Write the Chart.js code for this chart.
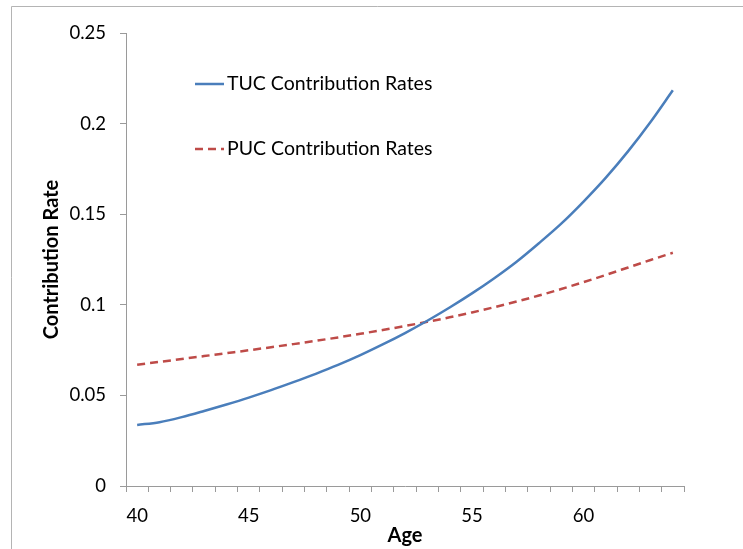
<!DOCTYPE html>
<html>
<head>
<meta charset="utf-8">
<script src="https://cdn.jsdelivr.net/npm/chart.js@4"></script>
<style>
html,body{margin:0;padding:0;background:#fff;}
canvas{display:block;}
</style>
</head>
<body>
<canvas id="c" width="743" height="549"></canvas>
<script>
const ages = ["40","41","42","43","44","45","46","47","48","49","50","51","52","53","54","55","56","57","58","59","60","61","62","63","64"];
const tucRates = [0.0337,0.0352,0.0380,0.0414,0.0450,0.0488,0.0529,0.0573,0.0619,0.0668,0.0722,0.0781,0.0844,0.0912,0.0985,0.1063,0.1147,0.1238,0.1340,0.1448,0.1570,0.1702,0.1848,0.2009,0.2184];
const pucRates = [0.0669,0.0685,0.0701,0.0717,0.0733,0.0749,0.0766,0.0783,0.0801,0.0820,0.0840,0.0861,0.0883,0.0906,0.0931,0.0958,0.0987,0.1018,0.1051,0.1087,0.1125,0.1165,0.1206,0.1247,0.1287];
const yTickValues = [0, 0.05, 0.1, 0.15, 0.2, 0.25];
const yTickLabels = ["0", "0.05", "0.1", "0.15", "0.2", "0.25"];
const xTickLabels = ["40", "45", "50", "55", "60"];
const seriesNames = ["TUC Contribution Rates", "PUC Contribution Rates"];

const FONT = "Lato, 'Open Sans', sans-serif";
const AXIS = "#9a9a9a";

const framePlugin = {
  id: 'frame',
  beforeDraw(chart) {
    const ctx = chart.ctx;
    ctx.save();
    ctx.fillStyle = '#fff';
    ctx.fillRect(0, 0, chart.width, chart.height);
    ctx.strokeStyle = '#b4b4b4';
    ctx.lineWidth = 1;
    ctx.beginPath();
    ctx.moveTo(11.5, chart.height);
    ctx.lineTo(11.5, 6.5);
    ctx.lineTo(chart.width, 6.5);
    ctx.stroke();
    ctx.restore();
  }
};

const legendPlugin = {
  id: 'innerLegend',
  afterDatasetsDraw(chart) {
    const ctx = chart.ctx;
    const rows = [84, 149];
    ctx.save();
    chart.data.datasets.forEach((ds, i) => {
      const y = rows[i];
      ctx.strokeStyle = ds.borderColor;
      ctx.lineWidth = ds.borderWidth;
      ctx.setLineDash(ds.borderDash || []);
      ctx.beginPath();
      ctx.moveTo(195, y);
      ctx.lineTo(224, y);
      ctx.stroke();
      ctx.setLineDash([]);
      ctx.fillStyle = '#000';
      ctx.font = "19.5px " + FONT;
      ctx.textBaseline = 'middle';
      ctx.textAlign = 'left';
      ctx.fillText(ds.label, 227, y);
    });
    ctx.restore();
  }
};

new Chart(document.getElementById('c'), {
  type: 'line',
  data: {
    labels: ages,
    datasets: [
      {
        label: seriesNames[0],
        data: tucRates,
        borderColor: '#4a7ebb',
        borderWidth: 2.5,
        pointRadius: 0,
        cubicInterpolationMode: 'monotone',
        fill: false
      },
      {
        label: seriesNames[1],
        data: pucRates,
        borderColor: '#be4b48',
        borderWidth: 2.5,
        borderDash: [8, 5],
        pointRadius: 0,
        cubicInterpolationMode: 'monotone',
        fill: false
      }
    ]
  },
  options: {
    responsive: false,
    animation: false,
    devicePixelRatio: 1,
    layout: { padding: { left: 0, top: 33, right: 59, bottom: 0 } },
    plugins: {
      legend: { display: false },
      tooltip: { enabled: false },
      title: { display: false }
    },
    scales: {
      x: {
        type: 'category',
        offset: true,
        grid: { offset: true, drawOnChartArea: false, drawTicks: true, tickLength: 6, color: AXIS, lineWidth: 1 },
        border: { display: true, color: AXIS, width: 1 },
        ticks: {
          autoSkip: false,
          maxRotation: 0,
          minRotation: 0,
          padding: 13,
          color: '#000',
          font: { family: FONT, size: 18.5 },
          callback: function(v, i) {
            const lab = this.getLabelForValue(v);
            return xTickLabels.includes(lab) ? lab : '';
          }
        },
        title: {
          display: true,
          text: 'Age',
          color: '#000',
          font: { family: FONT, size: 20, weight: 'bold' },
          padding: { top: 0, bottom: 1 }
        },
        afterFit(scale) { scale.height = 63; }
      },
      y: {
        min: 0,
        max: 0.25,
        grid: { drawOnChartArea: false, drawTicks: true, tickLength: 6, color: AXIS, lineWidth: 1 },
        border: { display: true, color: AXIS, width: 1 },
        afterBuildTicks(scale) { scale.ticks = yTickValues.map(v => ({ value: v })); },
        ticks: {
          padding: 14,
          color: '#000',
          font: { family: FONT, size: 18.5 },
          callback: function(v) {
            const idx = yTickValues.findIndex(t => Math.abs(t - v) < 1e-9);
            return idx >= 0 ? yTickLabels[idx] : '';
          }
        },
        title: {
          display: true,
          text: 'Contribution Rate',
          color: '#000',
          font: { family: FONT, size: 20, weight: 'bold' },
          padding: { top: 40, bottom: 0 }
        },
        afterFit(scale) { scale.width = 126; }
      }
    }
  },
  plugins: [framePlugin, legendPlugin]
});
</script>
</body>
</html>
